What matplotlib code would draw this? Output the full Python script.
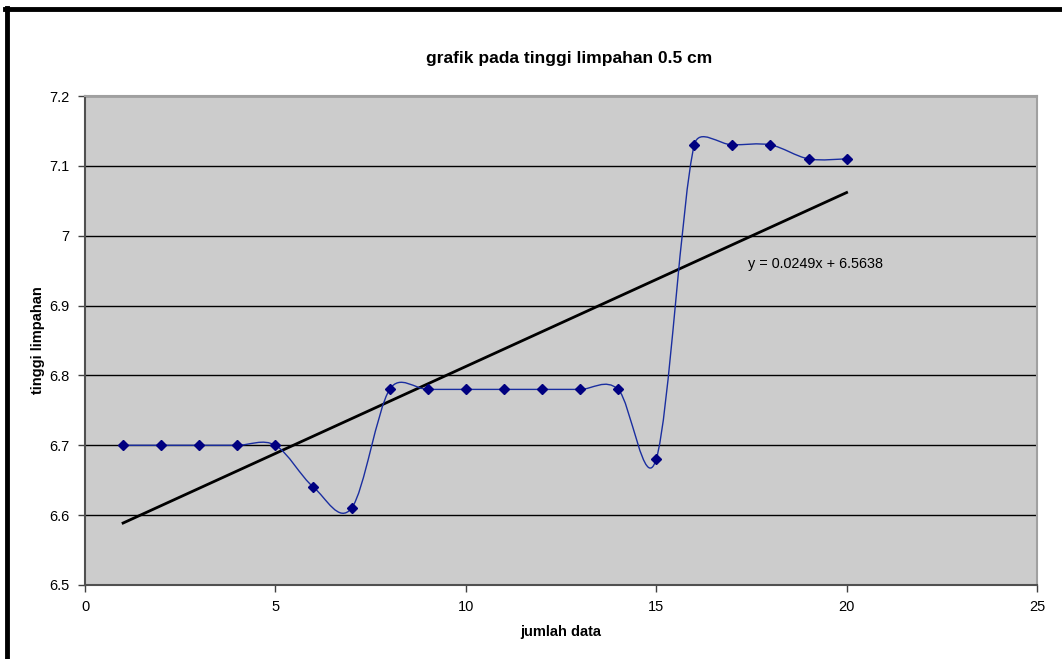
import matplotlib
matplotlib.use("Agg")
import matplotlib.pyplot as plt
from matplotlib.path import Path
from matplotlib.patches import PathPatch
from matplotlib.lines import Line2D
import numpy as np

plt.rcParams['font.family'] = ['Liberation Sans', 'DejaVu Sans']

x_data = [1, 2, 3, 4, 5, 6, 7, 8, 9, 10, 11, 12, 13, 14, 15, 16, 17, 18, 19, 20]
y_data = [6.70, 6.70, 6.70, 6.70, 6.70, 6.64, 6.61, 6.78, 6.78, 6.78,
          6.78, 6.78, 6.78, 6.78, 6.68, 7.13, 7.13, 7.13, 7.11, 7.11]
trend_slope = 0.0249
trend_intercept = 6.5638
title = "grafik pada tinggi limpahan 0.5 cm"
xlabel = "jumlah data"
ylabel = "tinggi limpahan"
eq_text = "y = 0.0249x + 6.5638"

fig = plt.figure(figsize=(10.62, 6.59), dpi=100)
fig.patch.set_facecolor("white")
ax = fig.add_axes([85/1062, 1-585/659, 952/1062, 489/659])
ax.set_facecolor("#cccccc")
ax.set_xlim(0, 25)
ax.set_ylim(6.5, 7.2)

# smoothed line (Excel-style Bezier smoothing, computed in screen space)
pts = np.column_stack([x_data, y_data]).astype(float)
scr = ax.transData.transform(pts)
n = len(scr)
def dist(a, b):
    return float(np.hypot(*(b - a)))
verts = [tuple(scr[0])]
codes = [Path.MOVETO]
for i in range(n - 1):
    p0 = scr[i - 1] if i > 0 else scr[i]
    p1 = scr[i]
    p2 = scr[i + 1]
    p3 = scr[i + 2] if i + 2 < n else scr[i + 1]
    d02, d12, d13 = dist(p0, p2), dist(p1, p2), dist(p1, p3)
    f0 = 1/6 if d02 / 6 < d12 / 2 else d12 / (2 * d02)
    f1 = 1/6 if d13 / 6 < d12 / 2 else d12 / (2 * d13)
    c1 = p1 + f0 * (p2 - p0)
    c2 = p2 - f1 * (p3 - p1)
    verts += [tuple(c1), tuple(c2), tuple(p2)]
    codes += [Path.CURVE4] * 3
data_verts = ax.transData.inverted().transform(np.array(verts))
path = Path(data_verts, codes)
ax.add_patch(PathPatch(path, facecolor="none", edgecolor="#1a2ea0", lw=1.0, zorder=3))
ax.plot(x_data, y_data, linestyle="none", marker="D", markersize=5.5,
        color="#000080", zorder=4)

# trendline
tx = np.array([x_data[0], x_data[-1]], dtype=float)
ax.plot(tx, trend_slope * tx + trend_intercept, color="black", lw=2.0, zorder=2)
ax.text(17.4, 6.959, eq_text, fontsize=10.4, ha="left", va="center", color="black")

ax.set_xticks([0, 5, 10, 15, 20, 25])
ax.set_yticks([6.5, 6.6, 6.7, 6.8, 6.9, 7.0, 7.1, 7.2])
ax.set_yticklabels(["6.5", "6.6", "6.7", "6.8", "6.9", "7", "7.1", "7.2"])
ax.grid(axis="y", color="black", lw=1.0, zorder=1)
ax.set_axisbelow(True)
ax.tick_params(axis="both", direction="out", length=5, width=1, color="#404040",
               labelsize=10.5, pad=6)
for s in ["left", "bottom"]:
    ax.spines[s].set_color("#505050")
    ax.spines[s].set_linewidth(1.5)
for s in ["top", "right"]:
    ax.spines[s].set_color("#a0a0a0")
    ax.spines[s].set_linewidth(1.5)

ax.set_xlabel(xlabel, fontsize=10.5, fontweight="bold", labelpad=8)
ax.set_ylabel(ylabel, fontsize=10.5, fontweight="bold", labelpad=3)
fig.text(569/1062, 1-59/659, title, fontsize=12.5, fontweight="bold",
         ha="center", va="center")

# outer black frame (left and top edges)
fig.add_artist(Line2D([7/1062, 7/1062], [0, 1-7.5/659], color="black", lw=3.5,
                      transform=fig.transFigure))
fig.add_artist(Line2D([5/1062, 1], [1-8.5/659, 1-8.5/659], color="black", lw=3.5,
                      transform=fig.transFigure))

fig.savefig("out.png", dpi=100)
